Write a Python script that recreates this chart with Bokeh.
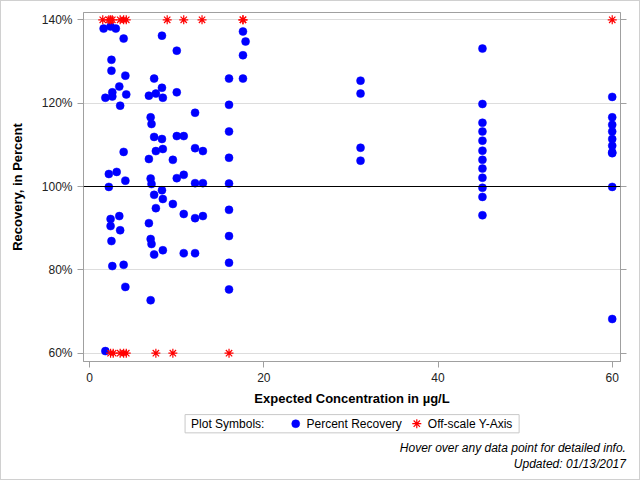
from bokeh.plotting import figure
from bokeh.models import (Range1d, FixedTicker, PrintfTickFormatter, LinearAxis, Span, Label,
                          CustomJSTickFormatter)
from bokeh.embed import file_html
from bokeh.resources import INLINE

# ---------------- data ----------------
conc = [
    # low concentrations
    1.6, 2.4, 3.0, 3.9, 2.5, 2.5, 4.1, 3.4, 2.6, 2.6, 1.8, 4.2, 3.5, 3.9, 2.2, 3.1, 4.1, 2.2,
    2.4, 3.4, 2.4, 3.5, 2.5, 2.6, 3.9, 4.1, 1.8,
    # mid concentrations
    8.3, 10.0, 7.4, 8.3, 6.8, 7.6, 8.4, 10.0, 12.1, 7.0, 7.1, 7.4, 8.3, 10.0, 10.8, 12.1, 13.0,
    7.6, 8.4, 6.8, 9.55, 7.0, 7.1, 10.0, 10.8, 12.1, 13.0, 8.3, 7.4, 8.4, 7.6, 9.55, 10.8, 12.1,
    13.0, 6.8, 7.0, 7.1, 7.4, 8.4, 10.8, 12.1, 7.0,
    # ~16-18
    16.0, 16.0, 16.0, 16.0, 16.0, 16.0, 16.0, 16.0, 16.0, 17.6, 17.6, 17.6, 17.9,
    # ~31
    31.1, 31.1, 31.1, 31.1,
    # ~45
    45.1, 45.1, 45.1, 45.1, 45.1, 45.1, 45.1, 45.1, 45.1, 45.1, 45.1, 45.1,
    # 60
    60.0, 60.0, 60.0, 60.0, 60.0, 60.0, 60.0, 60.0, 60.0, 60.0,
]
recovery = [
    137.9, 138.4, 137.9, 135.5, 130.4, 127.8, 126.6, 124.0, 122.6, 121.6, 121.3, 122.1, 119.4, 108.3,
    103.0, 103.5, 101.4, 99.9, 92.2, 92.9, 90.5, 89.5, 86.9, 80.9, 81.2, 75.9, 60.5,
    136.2, 132.6, 125.9, 123.7, 121.8, 122.3, 121.3, 122.6, 117.7, 116.6, 115.0, 111.9, 111.4, 112.1,
    112.1, 109.2, 108.5, 108.5, 109.0, 106.6, 106.4, 101.9, 100.6, 102.0, 102.8, 100.8, 100.8, 99.1,
    98.0, 97.0, 94.8, 95.8, 93.4, 92.4, 92.9, 91.2, 87.4, 86.2, 83.7, 84.7, 84.0, 84.0, 72.7,
    125.9, 119.6, 113.2, 106.9, 100.7, 94.4, 88.1, 81.7, 75.3, 137.2, 131.5, 125.9, 134.8,
    125.4, 122.3, 109.3, 106.2,
    133.1, 119.8, 115.3, 113.2, 111.0, 108.6, 106.4, 104.3, 102.1, 99.7, 97.5, 93.1,
    121.5, 116.6, 114.8, 113.2, 111.4, 109.8, 108.2, 108.0, 99.9, 68.2,
]
offscale_x = [1.5, 2.2, 2.4, 2.6, 3.5, 3.9, 4.2, 8.9, 10.8, 12.9, 17.6, 17.6, 60.0,
              2.4, 2.7, 3.5, 3.9, 4.2, 7.6, 9.55, 16.0]
offscale_y = [140, 140, 140, 140, 140, 140, 140, 140, 140, 140, 140, 140, 140,
              60, 60, 60, 60, 60, 60, 60, 60]
y_ticks = [60, 80, 100, 120, 140]
x_ticks = [0, 20, 40, 60]
legend_title = "Plot Symbols:"
legend_labels = ["Percent Recovery", "Off-scale Y-Axis"]
footnotes = ["Hover over any data point for detailed info.", "Updated: 01/13/2017"]

FONT = "Liberation Sans"
GRAY = "#a0a0a0"
EDGE = "1px solid #d0d0d0"

# ---------------- main plot ----------------
p = figure(width=640, height=407, output_backend="svg", toolbar_location=None,
           x_range=Range1d(-0.71, 60.95), y_range=Range1d(58.0, 141.76),
           min_border_left=82, min_border_right=21, min_border_top=11, min_border_bottom=47,
           background_fill_color="white", border_fill_color="white")
p.styles = {"border-top": EDGE, "border-left": EDGE, "border-right": EDGE}
p.outline_line_color = GRAY

p.xaxis.ticker = FixedTicker(ticks=x_ticks)
p.yaxis.ticker = FixedTicker(ticks=y_ticks)
p.yaxis.formatter = PrintfTickFormatter(format="%d%%")
for ax in (p.xaxis[0], p.yaxis[0]):
    ax.axis_line_color = GRAY
    ax.major_tick_line_color = GRAY
    ax.major_tick_in = 0
    ax.major_tick_out = 6
    ax.minor_tick_line_color = None
    ax.major_label_text_font = FONT
    ax.major_label_text_font_size = "12px"
    ax.major_label_text_color = "#222222"
    ax.axis_label_text_font = FONT
    ax.axis_label_text_font_size = "13px"
    ax.axis_label_text_font_style = "bold"
    ax.axis_label_text_color = "#000000"
    ax.major_label_standoff = 5
p.xaxis.axis_label = "Expected Concentration in µg/L"
p.yaxis.axis_label = "Recovery, in Percent"
p.xaxis.axis_label_standoff = 6
p.yaxis.axis_label_standoff = 14

raxis = LinearAxis(ticker=FixedTicker(ticks=y_ticks),
                   formatter=CustomJSTickFormatter(code="return ''"),
                   axis_line_color=GRAY, major_tick_line_color=GRAY,
                   major_tick_in=0, major_tick_out=6, minor_tick_line_color=None,
                   major_label_standoff=0)
p.add_layout(raxis, "right")

p.xgrid.visible = False
p.ygrid.grid_line_color = "#dddddd"
p.add_layout(Span(location=100, dimension="width", line_color="black", line_width=1))

p.scatter(conc, recovery, marker="circle", size=8, fill_color="#0000ff",
          line_color="#0000ff", line_width=0.5)
p.scatter(offscale_x, offscale_y, marker="asterisk", size=9, line_color="#ff0000",
          line_width=1.2)

# ---------------- legend / footnote strip (pixel coordinates) ----------------
q = figure(width=640, height=73, output_backend="svg", toolbar_location=None,
           x_range=Range1d(1, 639), y_range=Range1d(479, 407),
           x_axis_type=None, y_axis_type=None,
           min_border=0, min_border_left=0, min_border_right=0,
           min_border_top=0, min_border_bottom=0,
           background_fill_color="white", border_fill_color="white")
q.styles = {"border-bottom": EDGE, "border-left": EDGE, "border-right": EDGE}
q.outline_line_color = None
q.xgrid.visible = False
q.ygrid.visible = False

q.quad(left=[184], right=[517], top=[414], bottom=[432], fill_alpha=0,
       line_color="#c8c8c8", line_width=1)
q.add_layout(Label(x=190, y=423, text=legend_title, text_font=FONT, text_font_size="12px",
                   text_baseline="middle", text_color="#000000"))
q.scatter([294.3], [423], marker="circle", size=8, fill_color="#0000ff",
          line_color="#0000ff", line_width=0.5)
q.add_layout(Label(x=305, y=423, text=legend_labels[0], text_font=FONT, text_font_size="12px",
                   text_baseline="middle", text_color="#000000"))
q.scatter([415], [423], marker="asterisk", size=9, line_color="#ff0000", line_width=1.2)
q.add_layout(Label(x=426, y=423, text=legend_labels[1], text_font=FONT, text_font_size="12px",
                   text_baseline="middle", text_color="#000000"))
for yy, txt in zip([446.5, 462.5], footnotes):
    q.add_layout(Label(x=623.5, y=yy, text=txt, text_font=FONT, text_font_size="12px",
                       text_font_style="italic", text_align="right", text_baseline="middle",
                       text_color="#000000"))

open("out.html", "w").write(file_html([p, q], INLINE))
